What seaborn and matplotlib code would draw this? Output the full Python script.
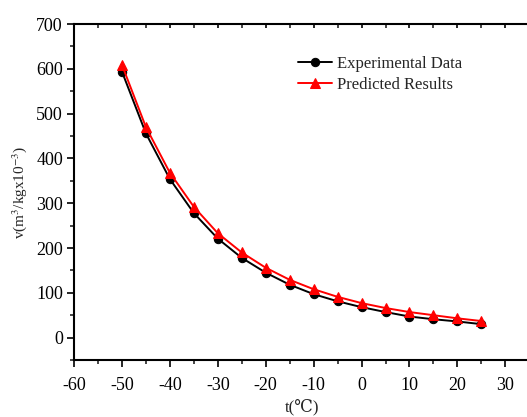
import numpy as np
import pandas as pd
import matplotlib
matplotlib.use("Agg")
import matplotlib.pyplot as plt
import seaborn as sns
from matplotlib.ticker import MultipleLocator

temps = [-50, -45, -40, -35, -30, -25, -20, -15, -10, -5, 0, 5, 10, 15, 20, 25]
experimental = [594, 456, 354, 278, 221, 178, 145, 118, 97, 81, 68, 57, 47, 41, 36, 30]
predicted = [609, 470, 368, 292, 233, 190, 156, 129, 108, 91, 77, 66, 57, 50, 43, 37]

sns.set_style("ticks")
plt.rcParams["font.family"] = ["Liberation Serif", "DejaVu Serif", "Noto Sans CJK SC"]
plt.rcParams["mathtext.fontset"] = "stix"
plt.rcParams["axes.unicode_minus"] = False

df = pd.DataFrame({"t": temps, "exp": experimental, "pred": predicted})

fig = plt.figure(figsize=(5.27, 4.17), dpi=100)
ax = fig.add_axes([0.1404, 0.1367, 0.864, 0.8057])

sns.lineplot(data=df, x="t", y="exp", ax=ax, color="black", marker="o",
             markersize=6, markeredgecolor="black", linewidth=1.4,
             label="Experimental Data")
sns.lineplot(data=df, x="t", y="pred", ax=ax, color="red", marker="^",
             markersize=7, markeredgecolor="red", linewidth=1.4,
             label="Predicted Results")

ax.set_xlim(-60, 35)
ax.set_ylim(-50, 700)
ax.xaxis.set_major_locator(MultipleLocator(10))
ax.xaxis.set_minor_locator(MultipleLocator(5))
ax.yaxis.set_major_locator(MultipleLocator(100))
ax.yaxis.set_minor_locator(MultipleLocator(50))

ax.tick_params(axis="both", which="major", direction="out", length=5, width=1.2,
               labelsize=13, colors="black")
ax.tick_params(axis="both", which="minor", direction="out", length=3, width=1.2)
ax.tick_params(axis="x", which="major", pad=7)
ax.tick_params(axis="y", which="major", pad=3)
ax.tick_params(axis="x", which="both", top=True, labeltop=False)
for sp in ax.spines.values():
    sp.set_linewidth(1.5)
    sp.set_color("black")
ax.spines["right"].set_visible(False)

# top ticks point inward
for t in ax.xaxis.get_major_ticks() + ax.xaxis.get_minor_ticks():
    t.tick2line.set_marker(matplotlib.lines.TICKDOWN)
    t.tick2line.set_markersize(3)

ax.set_xlabel("t(℃)", fontsize=12, labelpad=4)
ax.set_ylabel("v(m$^3$/kgx10$^{-3}$)", fontsize=11, labelpad=5)

ax.legend(loc="upper left", bbox_to_anchor=(0.46, 0.95), frameon=False,
          fontsize=12, handlelength=2.0, handletextpad=0.3, labelspacing=0.3)

fig.savefig("out.png", dpi=100)
